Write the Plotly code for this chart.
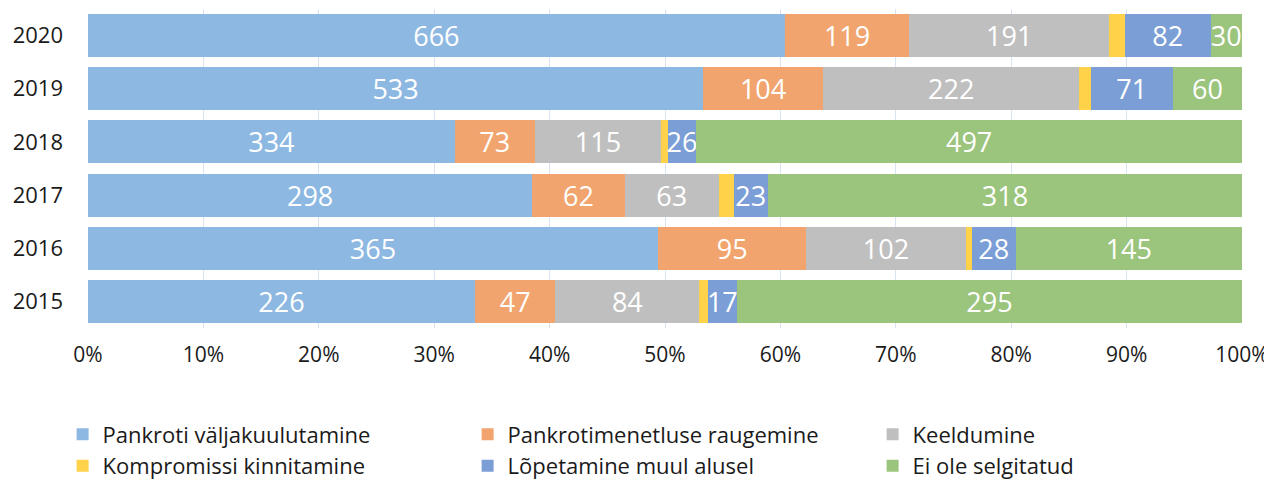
import plotly.graph_objects as go

years = ["2015", "2016", "2017", "2018", "2019", "2020"]
series_names = [
    "Pankroti väljakuulutamine",
    "Pankrotimenetluse raugemine",
    "Keeldumine",
    "Kompromissi kinnitamine",
    "Lõpetamine muul alusel",
    "Ei ole selgitatud",
]
pankroti = [226, 365, 298, 334, 533, 666]
raugemine = [47, 95, 62, 73, 104, 119]
keeldumine = [84, 102, 63, 115, 222, 191]
kompromiss = [5, 4, 10, 6, 10, 15]
lopetamine = [17, 28, 23, 26, 71, 82]
selgitamata = [295, 145, 318, 497, 60, 30]
show_labels = [True, True, True, False, True, True]
tick_vals = [0, 10, 20, 30, 40, 50, 60, 70, 80, 90, 100]
tick_text = [f"{v}%" for v in tick_vals]

colors = ["#8DB8E2", "#F1A46D", "#BFBFBF", "#FFD24A", "#7B9ED6", "#9BC47D"]
all_series = [pankroti, raugemine, keeldumine, kompromiss, lopetamine, selgitamata]

FONT = "Open Sans"
fig = go.Figure()
for name, vals, col, lab in zip(series_names, all_series, colors, show_labels):
    fig.add_trace(go.Bar(
        y=years, x=vals, name=name, orientation="h",
        marker=dict(color=col, line=dict(width=0)),
        text=[str(v) for v in vals] if lab else None,
        textposition="inside" if lab else "none",
        insidetextanchor="middle",
        textangle=0,
        constraintext="none",
        textfont=dict(color="white", size=27, family=FONT),
        hoverinfo="skip",
    ))

fig.update_layout(
    barmode="stack", barnorm="percent", bargap=0.19,
    width=1272, height=479,
    margin=dict(l=80, r=38, t=1, b=159, autoexpand=False),
    paper_bgcolor="white", plot_bgcolor="white",
    font=dict(family=FONT, size=22, color="#1a1a1a"),
    uniformtext=dict(mode="show", minsize=27),
    xaxis=dict(range=[0, 100], tickvals=tick_vals, ticktext=tick_text,
               showgrid=True, gridcolor="rgba(190,210,235,0.6)", gridwidth=1,
               layer="above traces", zeroline=False, ticks="",
               ticklabelstandoff=12,
               tickfont=dict(size=21), fixedrange=True),
    yaxis=dict(showgrid=False, ticks="", tickfont=dict(size=22),
               ticklabelstandoff=24, type="category"),
    legend=dict(orientation="h", x=-0.022, y=-0.2675, xanchor="left", yanchor="top",
                entrywidth=360, entrywidthmode="pixels", traceorder="normal",
                font=dict(size=22), itemwidth=30, tracegroupgap=0),
    showlegend=True,
)

fig.write_html("out.html")
